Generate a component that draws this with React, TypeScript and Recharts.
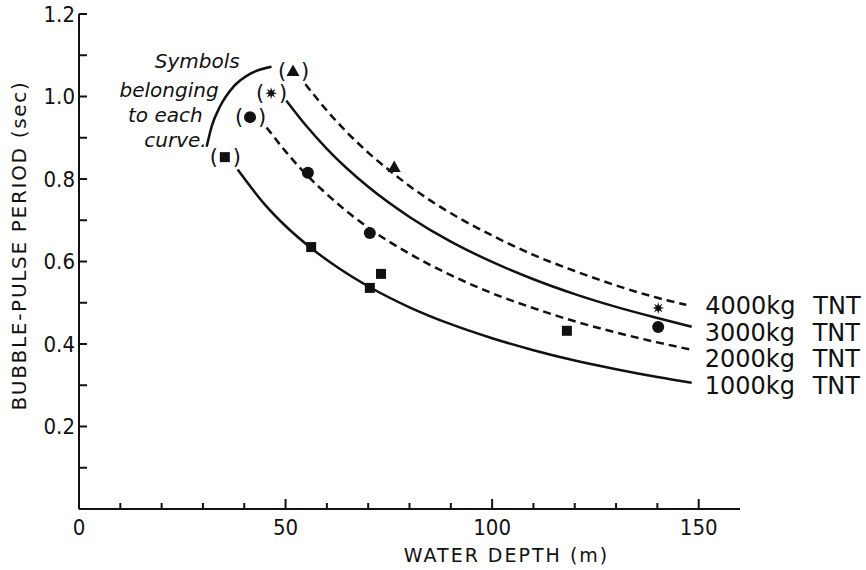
import { ComposedChart, Line, Scatter, XAxis, YAxis, Label } from "recharts";

// axis ticks
const depthTicks = [0, 10, 20, 30, 40, 50, 60, 70, 80, 90, 100, 110, 120, 130, 140, 150];
const depthLabels = [0, 50, 100, 150];
const periodTicks = [0, 0.1, 0.2, 0.3, 0.4, 0.5, 0.6, 0.7, 0.8, 0.9, 1.0, 1.1, 1.2];
const periodLabels = [0.2, 0.4, 0.6, 0.8, 1.0, 1.2];

// curves
const depth1000 = [38.4, 45, 50, 56, 63, 70, 80, 90, 100, 110, 120, 130, 140, 148.3];
const period1000 = [0.823, 0.738, 0.686, 0.634, 0.583, 0.54, 0.489, 0.448, 0.414, 0.385, 0.36, 0.339, 0.32, 0.306];
const depth2000 = [45.4, 50, 55, 60, 70, 80, 90, 100, 110, 120, 130, 140, 148.3];
const period2000 = [0.925, 0.867, 0.811, 0.763, 0.682, 0.619, 0.567, 0.523, 0.487, 0.455, 0.428, 0.404, 0.386];
const depth3000 = [50.2, 55, 60, 70, 80, 90, 100, 110, 120, 130, 140, 148.3];
const period3000 = [0.99, 0.929, 0.873, 0.781, 0.708, 0.648, 0.599, 0.557, 0.521, 0.49, 0.463, 0.442];
const depth4000 = [54.8, 60, 70, 76, 80, 90, 100, 110, 120, 130, 140, 147];
const period4000 = [1.03, 0.966, 0.864, 0.814, 0.783, 0.717, 0.663, 0.616, 0.577, 0.542, 0.512, 0.495];

// measured points
const squareDepth = [56.2, 70.4, 73.1, 118.1];
const squarePeriod = [0.635, 0.536, 0.57, 0.432];
const circleDepth = [55.4, 70.4, 140.2];
const circlePeriod = [0.815, 0.669, 0.441];
const starDepth = [140.2];
const starPeriod = [0.487];
const triangleDepth = [76.3];
const trianglePeriod = [0.829];

// "(symbol)" keys next to each curve start
const keyDepth = [35.3, 41.4, 46.5, 51.8];
const keyPeriod = [0.853, 0.95, 1.008, 1.062];
const keySymbols = ["square", "circle", "star", "triangle"];

// bracket arc for the annotation
const arcDepth = [30.9, 32.1, 34.1, 37.4, 41.4, 46.6];
const arcPeriod = [0.878, 0.927, 0.975, 1.024, 1.055, 1.072];
const noteLines = ["Symbols", "belonging", "to each", "curve."];

const curveNames = ["1000kg", "2000kg", "3000kg", "4000kg"];

const zip = (xs: number[], ys: number[]) => xs.map((x, i) => ({ x, y: ys[i] }));

const INK = "#111";
const TICK_FONT = "'Liberation Sans Narrow', 'DejaVu Sans Condensed', 'Liberation Sans', sans-serif";
const TEXT_FONT = "'DejaVu Sans', sans-serif";

function drawSymbol(kind: string, cx: number, cy: number) {
  if (kind === "square") return <rect x={cx - 5} y={cy - 5} width={10} height={10} fill={INK} />;
  if (kind === "circle") return <circle cx={cx} cy={cy} r={6} fill={INK} />;
  if (kind === "triangle")
    return <polygon points={`${cx},${cy - 6.5} ${cx + 6.5},${cy + 5} ${cx - 6.5},${cy + 5}`} fill={INK} />;
  const pts: string[] = [];
  for (let i = 0; i < 16; i++) {
    const r = i % 2 === 0 ? 6 : 2.6;
    const a = (Math.PI * i) / 8 - Math.PI / 2;
    pts.push(`${cx + r * Math.cos(a)},${cy + r * Math.sin(a)}`);
  }
  return <polygon points={pts.join(" ")} fill={INK} />;
}

const symbolShape = (kind: string) => (p: any) => <g>{drawSymbol(kind, p.cx, p.cy)}</g>;

const keyShape = (p: any) => {
  const kind = keySymbols[p.index] ?? "square";
  return (
    <g>
      <text x={p.cx - 11} y={p.cy + 7} textAnchor="middle" fontSize={21} fontFamily={TEXT_FONT} fill={INK}>(</text>
      {drawSymbol(kind, p.cx, p.cy)}
      <text x={p.cx + 12} y={p.cy + 7} textAnchor="middle" fontSize={21} fontFamily={TEXT_FONT} fill={INK}>)</text>
    </g>
  );
};

function PeriodTick(props: any) {
  const { x, y, payload } = props;
  const v = payload.value;
  if (v === 0) return <g />;
  const labelled = periodLabels.some((l) => Math.abs(l - v) < 1e-6);
  return (
    <g>
      <line x1={x} x2={x + 8} y1={y} y2={y} stroke={INK} strokeWidth={2} />
      {labelled && (
        <text x={x - 4} y={y} dy="0.36em" textAnchor="end" fontSize={22} fontFamily={TICK_FONT} fill={INK}>
          {v.toFixed(1)}
        </text>
      )}
    </g>
  );
}

function DepthTick(props: any) {
  const { x, y, payload } = props;
  const v = payload.value;
  const labelled = depthLabels.includes(v);
  return (
    <g>
      {v !== 0 && <line x1={x} x2={x} y1={y} y2={y - (labelled ? 10 : 6)} stroke={INK} strokeWidth={2} />}
      {labelled && (
        <text x={x} y={y + 26} textAnchor="middle" fontSize={22} fontFamily={TICK_FONT} fill={INK}>
          {v}
        </text>
      )}
    </g>
  );
}

const endLabel = (name: string, last: number, dx: number, dy: number) => (p: any) => {
  if (p.index !== last) return <g />;
  return (
    <g fontFamily={TEXT_FONT} fontSize={24} fill={INK}>
      <text x={p.x + dx} y={p.y + dy} fill={INK}>{name}</text>
      <text x={p.x + dx + 108} y={p.y + dy} fill={INK}>TNT</text>
    </g>
  );
};

const noteOffsets = [
  { dx: 33, dy: -79 },
  { dx: 12, dy: -50 },
  { dx: -4, dy: -25 },
  { dx: 0, dy: 0 },
];

const noteLabel = (p: any) => {
  if (p.index !== 0) return <g />;
  return (
    <g>
      {noteLines.map((t, i) => (
        <text
          key={t}
          x={p.x + noteOffsets[i].dx}
          y={p.y + noteOffsets[i].dy}
          textAnchor="end"
          fontSize={20}
          fontStyle="italic"
          fontFamily={TEXT_FONT}
          fill={INK}
        >
          {t}
        </text>
      ))}
    </g>
  );
};

const curves = [
  { data: zip(depth1000, period1000), dash: undefined, dx: 13, dy: 11 },
  { data: zip(depth2000, period2000), dash: "8 5", dx: 13, dy: 17 },
  { data: zip(depth3000, period3000), dash: undefined, dx: 13, dy: 14 },
  { data: zip(depth4000, period4000), dash: "8 5", dx: 19, dy: 9 },
];

export default function App() {
  return (
    <div style={{ position: "absolute", left: 0, top: 0, background: "#fff" }}>
      <ComposedChart width={866} height={570} margin={{ top: 14, right: 126, bottom: 0, left: 0 }}>
        <XAxis
          type="number"
          dataKey="x"
          domain={[0, 160]}
          ticks={depthTicks}
          interval={0}
          tickSize={0}
          tickMargin={0}
          tickLine={false}
          tick={<DepthTick />}
          height={61}
          axisLine={{ stroke: INK, strokeWidth: 2 }}
        >
          <Label
            value="WATER DEPTH (m)"
            position="insideBottom"
            offset={8}
            dx={97}
            style={{ fontFamily: TEXT_FONT, fontSize: 19, letterSpacing: 2, fill: INK }}
          />
        </XAxis>
        <YAxis
          type="number"
          dataKey="y"
          domain={[0, 1.2]}
          ticks={periodTicks}
          interval={0}
          tickSize={0}
          tickMargin={0}
          tickLine={false}
          tick={<PeriodTick />}
          width={79}
          axisLine={{ stroke: INK, strokeWidth: 2 }}
        >
          <Label
            value="BUBBLE-PULSE PERIOD (sec)"
            angle={-90}
            position="insideLeft"
            offset={19}
            dy={-16}
            style={{ textAnchor: "middle", fontFamily: TEXT_FONT, fontSize: 20, letterSpacing: 1.7, fill: INK }}
          />
        </YAxis>
        {curves.map((c, i) => (
          <Line
            key={curveNames[i]}
            data={c.data}
            dataKey="y"
            type="monotone"
            stroke={INK}
            strokeWidth={2.5}
            strokeDasharray={c.dash}
            dot={false}
            activeDot={false}
            isAnimationActive={false}
            label={endLabel(curveNames[i], c.data.length - 1, c.dx, c.dy)}
          />
        ))}
        <Line
          data={zip(arcDepth, arcPeriod)}
          dataKey="y"
          type="monotone"
          stroke={INK}
          strokeWidth={2.5}
          dot={false}
          activeDot={false}
          isAnimationActive={false}
          label={noteLabel}
        />
        <Scatter data={zip(squareDepth, squarePeriod)} dataKey="y" shape={symbolShape("square")} isAnimationActive={false} />
        <Scatter data={zip(circleDepth, circlePeriod)} dataKey="y" shape={symbolShape("circle")} isAnimationActive={false} />
        <Scatter data={zip(starDepth, starPeriod)} dataKey="y" shape={symbolShape("star")} isAnimationActive={false} />
        <Scatter data={zip(triangleDepth, trianglePeriod)} dataKey="y" shape={symbolShape("triangle")} isAnimationActive={false} />
        <Scatter data={zip(keyDepth, keyPeriod)} dataKey="y" shape={keyShape} isAnimationActive={false} />
      </ComposedChart>
    </div>
  );
}
